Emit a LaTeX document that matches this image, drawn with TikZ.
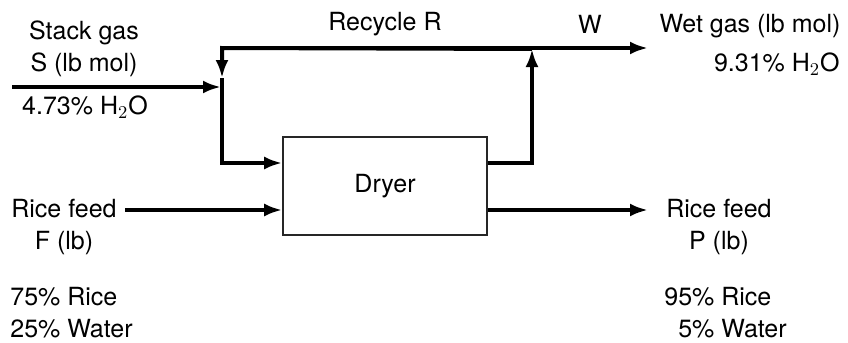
\documentclass[tikz,border=0pt]{standalone}
\usepackage{fontspec}
\setmainfont{TeX Gyre Heros}
\usepackage{tikz}
\usetikzlibrary{arrows.meta,positioning}

\begin{document}
\begin{tikzpicture}[
    x=0.5pt, y=-0.5pt,
    unit/.style={draw=black!85, line width=0.8pt, minimum width=102pt,
                 minimum height=49pt, font=\fontsize{12.5}{16}\selectfont},
    lbl/.style={align=center, inner sep=0pt, font=\fontsize{12.5}{16}\selectfont},
    flow/.style={-{Latex[length=9pt,width=6.5pt]}, line width=2pt}
  ]
  \useasboundingbox (0,0) rectangle (848,343);

  \node[unit] (dryer) at (385,186) {Dryer};

  \coordinate (sin)   at (12,87);
  \coordinate (mix)   at (221,87);
  \coordinate (rtop)  at (222,48);
  \coordinate (rmid)  at (222,78);
  \coordinate (rdown) at (222,163);
  \coordinate (split) at (532,49);
  \coordinate (wend)  at (648,48);
  \coordinate (fin)   at (125,210);
  \coordinate (pout)  at (648,210);

  \node[lbl] (stack)  at (84,49)  {Stack gas\\S (lb mol)};
  \node[lbl] (sh2o)   at (85,107) {4.73\% H$_2$O};
  \node[lbl] (recyc)  at (385,24) {Recycle R};
  \node[lbl] (wlbl)   at (590,24) {W};
  \node[lbl] (wet)    at (750,26) {Wet gas (lb mol)};
  \node[lbl, anchor=east] (wh2o) at (840,64) {9.31\% H$_2$O};
  \node[lbl] (feed)   at (64,227) {Rice feed\\F (lb)};
  \node[lbl, align=left, anchor=west] (fcomp) at (10,313) {75\% Rice\\25\% Water};
  \node[lbl] (prod)   at (719,227) {Rice feed\\P (lb)};
  \node[lbl, align=left, anchor=west] (pcomp) at (664,313) {95\% Rice\\\phantom{9}5\% Water};

  \draw[flow] (sin) -- (mix);
  \draw[flow] (rtop) -- (wend);
  \draw[flow] (split) -- (rtop) -- (rmid);
  \draw[flow] (rmid) -- (rdown) -- (rdown -| dryer.west);
  \draw[flow] (rdown -| dryer.east) -| (split);
  \draw[flow] (fin) -- (fin -| dryer.west);
  \draw[flow] (pout -| dryer.east) -- (pout);
\end{tikzpicture}
\end{document}
